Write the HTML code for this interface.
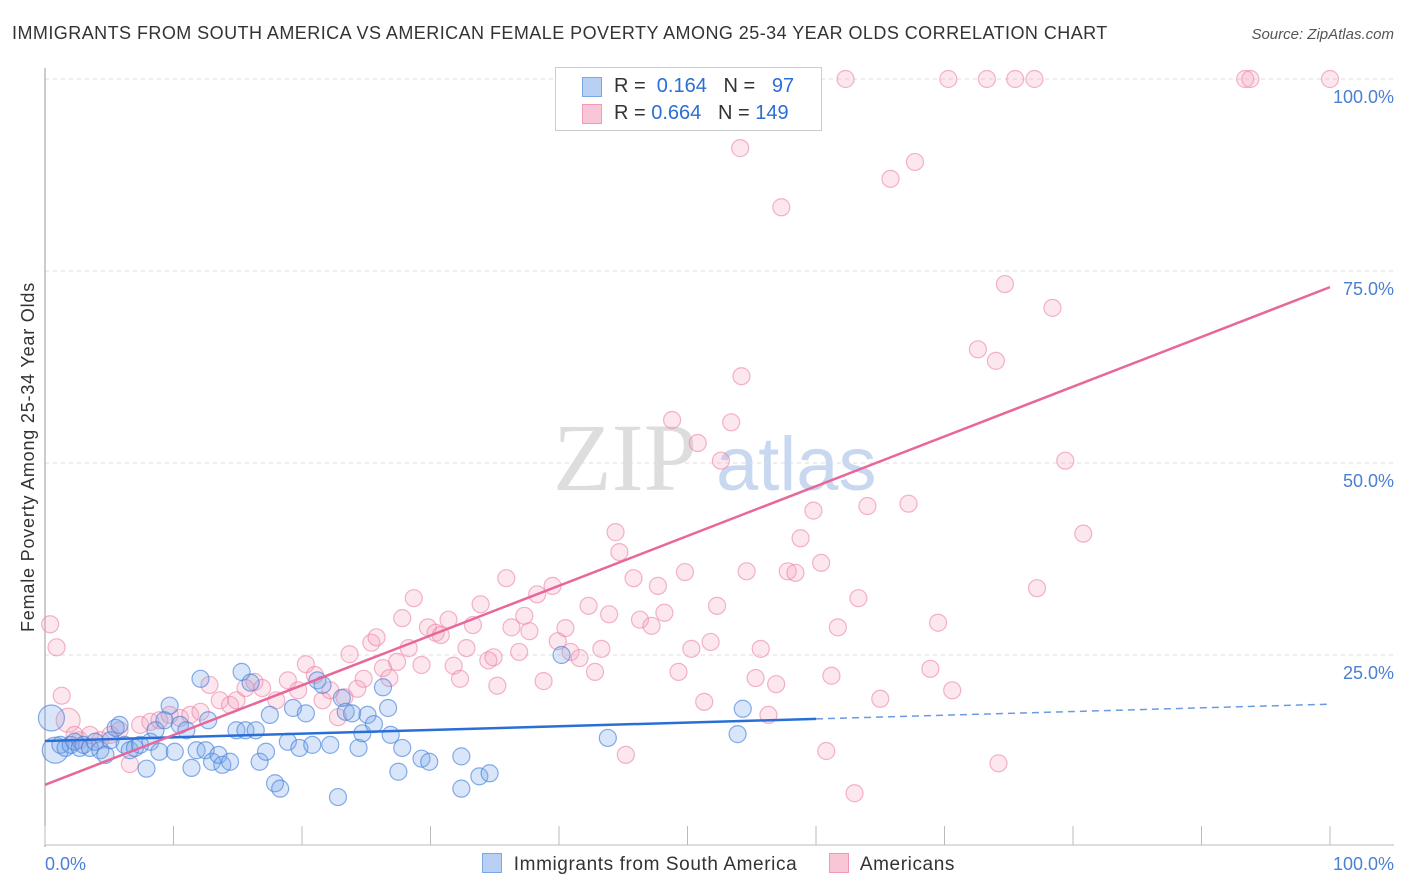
<!DOCTYPE html>
<html><head><meta charset="utf-8"><style>
body{margin:0;background:#fff;font-family:"Liberation Sans",sans-serif}
#wrap{position:relative;width:1406px;height:892px;overflow:hidden}
</style></head><body>
<div id="wrap">
<svg id="svg" width="1406" height="892">
<text x="12" y="39" font-size="18" fill="#333" letter-spacing="0.45">IMMIGRANTS FROM SOUTH AMERICA VS AMERICAN FEMALE POVERTY AMONG 25-34 YEAR OLDS CORRELATION CHART</text>
<text x="1394" y="39" font-size="15" fill="#555" font-style="italic" text-anchor="end">Source: ZipAtlas.com</text>
<text transform="translate(34,457) rotate(-90)" font-size="18" fill="#333" text-anchor="middle" letter-spacing="0.8">Female Poverty Among 25-34 Year Olds</text>
<text x="553" y="490" font-size="96" fill="#ddd" font-family="Liberation Serif,serif">ZIP</text>
<text x="716" y="490" font-size="76" fill="#c8d8f0">atlas</text>
<g id="grid"></g><g id="pts"></g><g id="lines"></g>
</svg>
<div style="position:absolute;left:555px;top:67px;width:265px;height:62px;border:1px solid #ccc;background:#fff;font-size:20px">
 <div style="position:absolute;left:26px;top:9px;width:18px;height:18px;background:#b8d0f4;border:1px solid #7aa7e6"></div>
 <div style="position:absolute;left:58px;top:7px;color:#333">R = <span style="color:#2a6fd6">&nbsp;0.164</span>&nbsp;&nbsp;&nbsp;N = &nbsp;<span style="color:#2a6fd6">&nbsp;97</span></div>
 <div style="position:absolute;left:26px;top:36px;width:18px;height:18px;background:#f9c6d6;border:1px solid #ef9ab6"></div>
 <div style="position:absolute;left:58px;top:34px;color:#333">R = <span style="color:#2a6fd6">0.664</span>&nbsp;&nbsp;&nbsp;N = <span style="color:#2a6fd6">149</span></div>
</div>
<div style="position:absolute;left:482px;top:853px;font-size:19px;letter-spacing:0.6px;color:#333">
 <span style="display:inline-block;width:18px;height:18px;background:#b8d0f4;border:1px solid #7aa7e6;vertical-align:-3px"></span>&nbsp; Immigrants from South America
 <span style="display:inline-block;width:18px;height:18px;background:#f9c6d6;border:1px solid #ef9ab6;vertical-align:-3px;margin-left:26px"></span>&nbsp; Americans
</div>
</div>
<script>
const xTicks=[0,10,20,30,40,50,60,70,80,90,100];
const yTicks=[25,50,75,100];
const yTickLabels=["25.0%","50.0%","75.0%","100.0%"];
const blueX=[0.5,0.8,1.2,1.6,2.0,2.3,2.7,3.0,3.5,3.9,4.3,4.7,5.1,5.5,5.8,6.2,6.6,7.0,7.4,7.9,8.2,8.6,8.9,9.3,9.7,10.1,10.5,11.0,11.4,11.8,12.1,12.5,12.7,13.0,13.5,13.8,14.4,14.9,15.3,15.6,16.0,16.4,16.7,17.2,17.5,17.9,18.3,18.9,19.3,19.8,20.3,20.8,21.2,21.6,22.2,22.8,23.1,23.4,23.9,24.4,24.7,25.1,25.6,26.3,26.7,26.9,27.5,27.8,29.3,29.9,32.4,32.4,33.8,34.6,40.2,43.8,53.9,54.3];
const blueY=[16.8,12.6,13.3,12.9,13.3,13.7,12.9,13.3,12.9,13.7,12.6,12.0,13.9,15.5,15.9,13.3,12.6,12.9,13.3,10.2,13.7,15.2,12.4,16.5,18.4,12.4,15.9,15.2,10.3,12.6,21.9,12.6,16.5,11.1,12.0,10.7,11.1,15.2,22.8,15.2,21.4,15.2,11.1,12.4,17.2,8.3,7.6,13.7,18.1,12.9,17.4,13.3,21.7,21.1,13.3,6.5,19.4,17.6,17.4,12.9,14.8,17.2,16.0,20.8,18.1,14.6,9.8,12.9,11.5,11.1,11.8,7.6,9.2,9.6,25.0,14.2,14.7,18.0];
const blueR=[13,13];
const pinkX=[0.4,0.9,1.3,1.8,2.3,2.7,3.5,4.3,5.1,5.8,6.6,7.4,8.2,8.9,9.7,10.5,11.3,12.1,12.8,13.6,14.4,14.9,15.6,16.3,16.9,18.0,18.9,19.7,20.3,21.0,21.6,22.2,22.8,23.3,23.7,24.3,24.8,25.4,25.8,26.3,26.8,27.4,27.8,28.3,28.7,29.3,29.8,30.4,30.8,31.4,31.8,32.3,32.8,33.3,33.9,34.5,34.9,35.2,35.9,36.3,36.9,37.3,37.7,38.3,38.8,39.5,39.9,40.5,40.9,41.6,42.3,42.8,43.3,43.9,44.4,44.7,45.2,45.8,46.3,47.0,47.2,47.7,48.2,48.8,49.3,49.8,50.3,50.8,51.3,51.8,52.3,52.6,53.4,54.1,54.2,54.6,55.3,55.7,56.3,56.9,57.3,57.8,58.4,58.8,59.8,60.4,60.8,61.2,61.7,62.3,63.0,63.3,64.0,65.0,65.8,67.2,67.7,68.9,69.5,70.3,70.6,72.6,73.3,74.0,74.2,74.7,75.5,77.0,77.2,78.4,79.4,80.8,93.4,93.8,100];
const pinkY=[29.0,26.0,19.7,16.5,14.6,13.9,14.6,13.9,14.6,15.2,10.8,15.9,16.3,16.5,17.2,16.8,17.2,17.6,21.1,19.1,18.5,19.1,20.7,21.5,20.7,19.1,21.7,20.4,23.8,22.4,19.1,20.4,16.9,19.5,25.1,20.6,21.9,26.6,27.3,23.3,22.0,24.1,29.8,25.9,32.4,23.7,28.6,27.9,27.6,29.6,23.6,21.9,25.9,28.9,31.6,24.3,24.7,21.0,35.0,28.6,25.4,30.1,28.1,32.9,21.6,34.0,26.8,28.5,25.4,24.6,31.4,22.8,25.8,30.3,41.0,38.4,12.0,35.0,29.6,97.5,28.8,34.0,30.5,55.6,22.8,35.8,25.8,52.6,18.9,26.7,31.4,50.3,55.3,91.0,61.3,35.9,22.0,25.8,17.2,21.2,83.3,35.9,35.7,40.2,43.8,37.0,12.5,22.3,28.6,100,7.0,32.4,44.4,19.3,87.0,44.7,89.2,23.2,29.2,100,20.4,64.8,100,63.3,10.9,73.3,100,100,33.7,70.2,50.3,40.8,100,100,100];
const blueFit=[13.8,18.6];
const pinkFit=[8.1,72.9];
const X0=45,X1=1330,Y0=847,Y100=79;
const sx=v=>X0+(X1-X0)*v/100, sy=v=>Y0-(Y0-Y100)*v/100;
const NS="http://www.w3.org/2000/svg";
function mk(tag,at,parent){const e=document.createElementNS(NS,tag);for(const k in at)e.setAttribute(k,at[k]);parent.appendChild(e);return e;}
const grid=document.getElementById('grid');
yTicks.forEach((t,i)=>{
 const l=mk('line',{x1:X0,x2:1394,y1:sy(t),y2:sy(t),stroke:'#ddd','stroke-dasharray':'4,4'},grid);
 
 
 const tx=mk('text',{x:1394,y:sy(t)+24,'text-anchor':'end','font-size':18,fill:'#4a7fd4'},grid);
 tx.textContent=yTickLabels[i];
 
 
});
const ax=mk('line',{x1:X0,x2:X0,y1:68,y2:847,stroke:'#999'},grid);


const bx=mk('line',{x1:X0,x2:1394,y1:845,y2:845,stroke:'#bbb'},grid);


xTicks.forEach(t=>{
 const l=mk('line',{x1:sx(t),x2:sx(t),y1:826,y2:845,stroke:'#bbb'},grid);
 
 
});
const xl0=mk('text',{x:45,y:870,'font-size':18,fill:'#4a7fd4'},grid);xl0.textContent='0.0%';


const xl1=mk('text',{x:1394,y:870,'font-size':18,fill:'#4a7fd4','text-anchor':'end'},grid);xl1.textContent='100.0%';


const pts=document.getElementById('pts');
pinkX.forEach((v,i)=>{
 const c=mk('circle',{cx:sx(v),cy:sy(pinkY[i]),r:i==3?12:8.5,fill:'rgba(244,160,186,0.25)',stroke:'rgba(236,130,165,0.6)','stroke-width':1.2},pts);
 
 
});
blueX.forEach((v,i)=>{
 const c=mk('circle',{cx:sx(v),cy:sy(blueY[i]),r:blueR[i]||8.5,fill:'rgba(120,165,235,0.28)',stroke:'rgba(70,130,220,0.65)','stroke-width':1.2},pts);
 
 
});
const lines=document.getElementById('lines');
const bxEnd=60;
const b1=mk('line',{x1:sx(0),y1:sy(blueFit[0]),x2:sx(bxEnd),y2:sy(blueFit[0]+(blueFit[1]-blueFit[0])*bxEnd/100),stroke:'#2a6fd6','stroke-width':2.5},lines);


const b2=mk('line',{x1:sx(bxEnd),y1:sy(blueFit[0]+(blueFit[1]-blueFit[0])*bxEnd/100),x2:sx(100),y2:sy(blueFit[1]),stroke:'#6a9be0','stroke-width':1.5,'stroke-dasharray':'7,5'},lines);


const p1=mk('line',{x1:sx(0),y1:sy(pinkFit[0]),x2:sx(100),y2:sy(pinkFit[1]),stroke:'#e8679a','stroke-width':2.5},lines);


</script>
</body></html>
